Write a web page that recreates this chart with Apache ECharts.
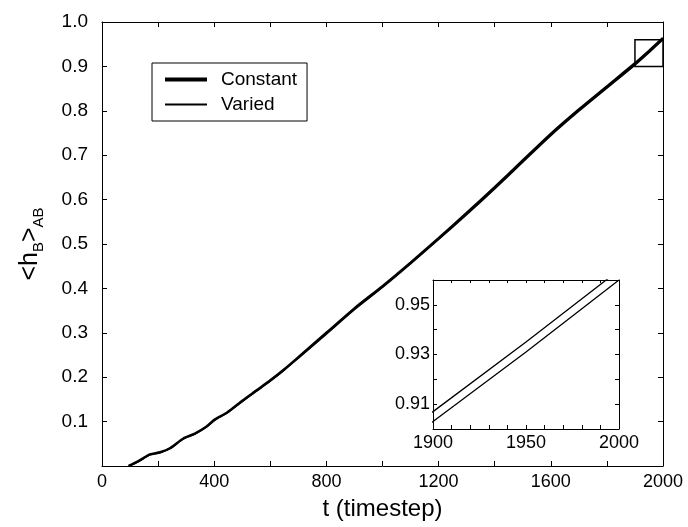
<!DOCTYPE html>
<html>
<head>
<meta charset="utf-8">
<script src="https://cdn.jsdelivr.net/npm/echarts@6/dist/echarts.min.js"></script>
<style>
  html, body { margin: 0; padding: 0; background: #fff; }
  #chart { width: 688px; height: 527px; }
</style>
</head>
<body>
<div id="chart"></div>
<script>
// Time steps at which the mean height is sampled
const steps = [95, 130, 171, 207, 242, 290, 331, 373, 403, 445, 500, 550, 600, 650, 700,
  800, 900, 1000, 1100, 1200, 1300, 1400, 1500, 1600, 1700, 1800, 1900, 1950, 2000];
// <h_B>_AB for the constant-rate run
const constant = [0, 0.011, 0.026, 0.031, 0.040, 0.062, 0.073, 0.089, 0.105, 0.120, 0.147, 0.170, 0.193, 0.218, 0.245,
  0.300, 0.355, 0.405, 0.458, 0.513, 0.570, 0.628, 0.688, 0.748, 0.803, 0.855, 0.907, 0.935, 0.964];
// <h_B>_AB for the varied-rate run
const varied = [0, 0.010, 0.025, 0.030, 0.039, 0.061, 0.072, 0.088, 0.104, 0.119, 0.145, 0.168, 0.191, 0.216, 0.243,
  0.297, 0.352, 0.402, 0.455, 0.510, 0.566, 0.624, 0.684, 0.744, 0.799, 0.851, 0.903, 0.931, 0.960];
// Region magnified in the inset: [t0, t1], [h0, h1]
const zoomT = [1900, 2000];
const zoomH = [0.90, 0.96];
const seriesNames = ['Constant', 'Varied'];

const pairs = (ys) => steps.map((t, i) => [t, ys[i]]);
const FONT = "'Liberation Sans', Arial, sans-serif";
const NARROW = "'Liberation Sans Narrow', 'Liberation Sans', Arial, sans-serif";

const frameAxis = (extra) => Object.assign({
  type: 'value',
  axisLine: { show: true, onZero: false, lineStyle: { color: '#000', width: 1 } },
  axisTick: { show: true, inside: true, length: 5, lineStyle: { color: '#000' } },
  splitLine: { show: false },
  axisLabel: { show: false }
}, extra);

const chart = echarts.init(document.getElementById('chart'), null, { renderer: 'canvas' });

chart.setOption({
  backgroundColor: '#fff',
  animation: false,
  textStyle: { fontFamily: FONT, color: '#000' },
  grid: [
    { left: 102, right: 25, top: 22, bottom: 61 },
    { left: 433, top: 280, width: 186, height: 149, show: true, backgroundColor: '#fff', borderWidth: 0, z: 5 }
  ],
  legend: {
    data: [
      { name: seriesNames[0], icon: 'path://M0,0H42V4H0Z' },
      { name: seriesNames[1], icon: 'path://M0,0H42V2H0Z' }
    ],
    orient: 'vertical',
    left: 152, top: 63,
    itemWidth: 42, itemHeight: 14, itemGap: 6,
    padding: [7, 10, 7, 13],
    borderColor: '#000', borderWidth: 1, backgroundColor: '#fff',
    itemStyle: { color: '#000' },
    textStyle: { fontFamily: FONT, fontSize: 19, color: '#000', padding: [0, 0, 0, 9] }
  },
  xAxis: [
    frameAxis({
      gridIndex: 0, position: 'bottom', min: 0, max: 2000, interval: 200,
      name: 't (timestep)', nameLocation: 'middle', nameGap: 31,
      nameTextStyle: { fontFamily: FONT, fontSize: 24, color: '#000' },
      axisLabel: {
        show: true, margin: 7, fontSize: 18, color: '#000', fontFamily: FONT,
        formatter: (v) => (v % 400 === 0 ? String(v) : '')
      }
    }),
    frameAxis({ gridIndex: 0, position: 'top', min: 0, max: 2000, interval: 200 }),
    frameAxis({
      gridIndex: 1, position: 'bottom', min: zoomT[0], max: zoomT[1], interval: 10, z: 10,
      axisTick: { show: true, inside: true, length: 4, lineStyle: { color: '#000' } },
      axisLabel: {
        show: true, margin: 5, fontSize: 18, color: '#000', fontFamily: NARROW,
        formatter: (v) => (v % 50 === 0 ? String(v) : '')
      }
    }),
    frameAxis({
      gridIndex: 1, position: 'top', min: zoomT[0], max: zoomT[1], interval: 10, z: 10,
      axisTick: { show: true, inside: true, length: 3, lineStyle: { color: '#000' } }
    })
  ],
  yAxis: [
    frameAxis({
      gridIndex: 0, position: 'left', min: 0, max: 1, interval: 0.1,
      name: '{a|<h}{s|B}{a|>}{s|AB}', nameLocation: 'middle', nameRotate: 90, nameGap: 56,
      nameTextStyle: {
        fontFamily: FONT, color: '#000',
        rich: {
          a: { fontFamily: FONT, fontSize: 25, lineHeight: 31, color: '#000' },
          s: { fontFamily: FONT, fontSize: 15, color: '#000', verticalAlign: 'bottom' }
        }
      },
      axisLabel: {
        show: true, margin: 14, fontSize: 19, color: '#000', fontFamily: FONT,
        formatter: (v) => (v === 0 ? '' : v.toFixed(1))
      }
    }),
    frameAxis({ gridIndex: 0, position: 'right', min: 0, max: 1, interval: 0.1 }),
    frameAxis({
      gridIndex: 1, position: 'left', min: zoomH[0], max: zoomH[1], interval: 0.01, z: 10,
      axisTick: { show: true, inside: true, length: 4, lineStyle: { color: '#000' } },
      axisLabel: {
        show: true, margin: 3, fontSize: 18, color: '#000', fontFamily: NARROW,
        formatter: (v) => (Math.round(v * 100) % 2 === 1 ? v.toFixed(2) : '')
      }
    }),
    frameAxis({
      gridIndex: 1, position: 'right', min: zoomH[0], max: zoomH[1], interval: 0.01, z: 10,
      axisTick: { show: true, inside: true, length: 4, lineStyle: { color: '#000' } }
    })
  ],
  series: [
    {
      name: seriesNames[0], type: 'line', xAxisIndex: 0, yAxisIndex: 0,
      data: pairs(constant), showSymbol: false, symbol: 'none', smooth: 0.25,
      lineStyle: { color: '#000', width: 2.5 }, itemStyle: { color: '#000' },
      markArea: {
        silent: true,
        itemStyle: { color: 'rgba(0,0,0,0)', borderColor: '#000', borderWidth: 1.5 },
        data: [[{ coord: [zoomT[0], zoomH[0]] }, { coord: [zoomT[1], zoomH[1]] }]]
      }
    },
    {
      name: seriesNames[1], type: 'line', xAxisIndex: 0, yAxisIndex: 0,
      data: pairs(varied), showSymbol: false, symbol: 'none', smooth: 0.25,
      lineStyle: { color: '#000', width: 1.5 }, itemStyle: { color: '#000' }
    },
    {
      name: seriesNames[0], type: 'line', xAxisIndex: 2, yAxisIndex: 2, z: 6,
      data: pairs(constant), showSymbol: false, symbol: 'none', clip: true,
      lineStyle: { color: '#000', width: 1.3 }, itemStyle: { color: '#000' }
    },
    {
      name: seriesNames[1], type: 'line', xAxisIndex: 2, yAxisIndex: 2, z: 6,
      data: pairs(varied), showSymbol: false, symbol: 'none', clip: true,
      lineStyle: { color: '#000', width: 1.3 }, itemStyle: { color: '#000' }
    }
  ]
});
</script>
</body>
</html>
